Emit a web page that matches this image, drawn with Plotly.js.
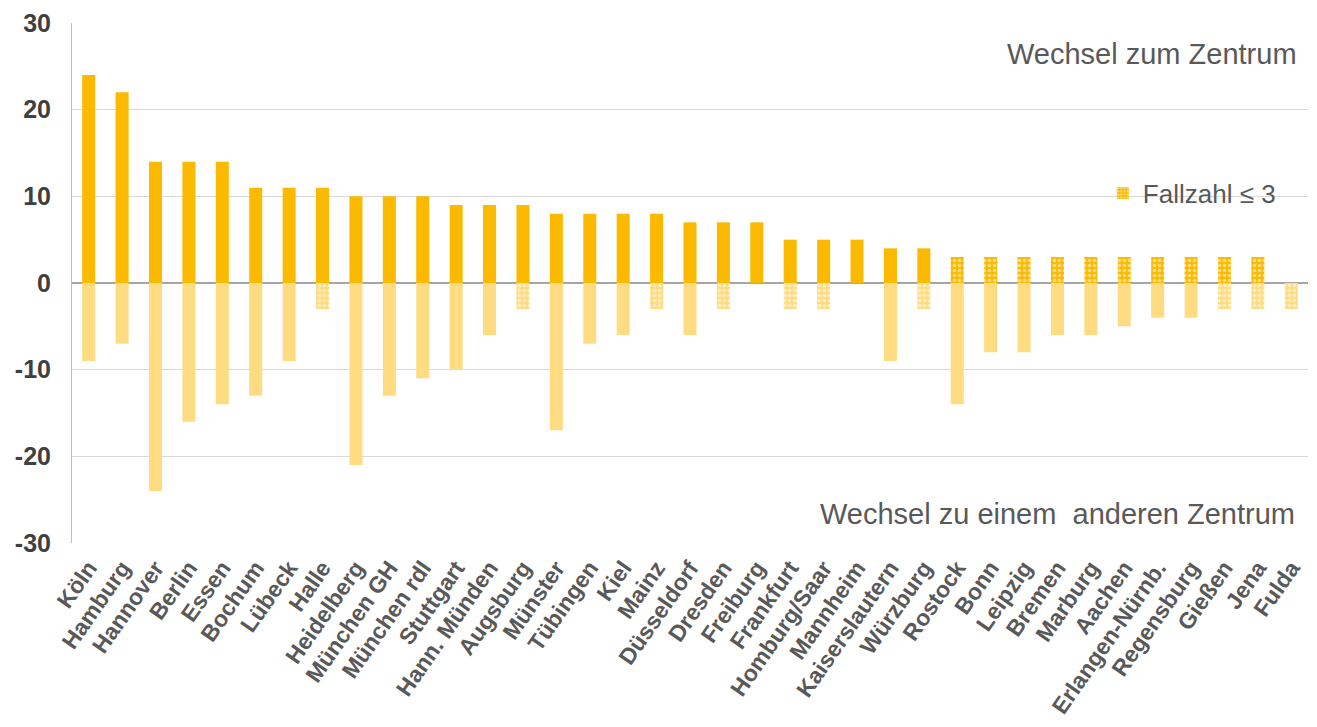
<!DOCTYPE html>
<html>
<head>
<meta charset="utf-8">
<script src="https://cdn.plot.ly/plotly-3.0.1.min.js"></script>
<style>html,body{margin:0;padding:0;background:#fff}#chart{width:1317px;height:727px}</style>
</head>
<body>
<div id="chart"></div>
<script>
const categories = ["Köln","Hamburg","Hannover","Berlin","Essen","Bochum","Lübeck","Halle","Heidelberg","München GH","München rdl","Stuttgart","Hann. Münden","Augsburg","Münster","Tübingen","Kiel","Mainz","Düsseldorf","Dresden","Freiburg","Frankfurt","Homburg/Saar","Mannheim","Kaiserslautern","Würzburg","Rostock","Bonn","Leipzig","Bremen","Marburg","Aachen","Erlangen-Nürnb.","Regensburg","Gießen","Jena","Fulda"];
const zumZentrum = [24,22,14,14,14,11,11,11,10,10,10,9,9,9,8,8,8,8,7,7,7,5,5,5,4,4,3,3,3,3,3,3,3,3,3,3,0];
const zuAnderem = [-9,-7,-24,-16,-14,-13,-9,-3,-21,-13,-11,-10,-6,-3,-17,-7,-6,-3,-6,-3,0,-3,-3,0,-9,-3,-14,-8,-8,-6,-6,-5,-4,-4,-3,-3,-3];
const kleinPos = [0,0,0,0,0,0,0,0,0,0,0,0,0,0,0,0,0,0,0,0,0,0,0,0,0,0,1,1,1,1,1,1,1,1,1,1,0];
const kleinNeg = [0,0,0,0,0,0,0,1,0,0,0,0,0,1,0,0,0,1,0,1,0,1,1,0,0,1,0,0,0,0,0,0,0,0,1,1,1];
const yTicks = [-30,-20,-10,0,10,20,30];

const darkC = '#FBBA00', lightC = '#FFDC82';
function pat(flags, col){
  return {shape: flags.map(f => f ? '.' : ''), fillmode:'overlay', bgcolor: col, fgcolor:'#ffffff', size:5, solidity:0.4};
}
const traces = [
  {type:'bar', x:categories, y:zumZentrum, marker:{color:darkC, line:{width:0}, pattern:pat(kleinPos, darkC)}, showlegend:false, hoverinfo:'x+y'},
  {type:'bar', x:categories, y:zuAnderem, marker:{color:lightC, line:{width:0}, pattern:pat(kleinNeg, lightC)}, showlegend:false, hoverinfo:'x+y'},
  {type:'bar', x:[categories[0]], y:[null], name:'Fallzahl ≤ 3', marker:{color:darkC, pattern:{shape:'.', fillmode:'overlay', bgcolor:darkC, fgcolor:'#ffffff', size:4, solidity:0.4}}, showlegend:true}
];
const layout = {
  width:1317, height:727,
  margin:{l:72, r:9, t:23, b:184},
  paper_bgcolor:'#ffffff', plot_bgcolor:'#ffffff',
  barmode:'relative', bargap:0.61,
  font:{family:'Liberation Sans, Arial, sans-serif', color:'#595959'},
  xaxis:{type:'category', tickangle:-55, tickfont:{size:23, color:'#595959', family:'Liberation Sans, Arial, sans-serif', weight:'bold'}, showgrid:false, ticks:'', showline:false, zeroline:false, automargin:false, ticklabelstandoff:6},
  yaxis:{range:[-30,30], tickvals:yTicks, ticktext:yTicks.map(String), tickfont:{size:25, color:'#404040', weight:'bold'}, showgrid:true, gridcolor:'#D9D9D9', gridwidth:1, zeroline:true, zerolinecolor:'#A6A6A6', zerolinewidth:2, showline:true, linecolor:'#BFBFBF', linewidth:1, ticks:'', ticklabelstandoff:15, automargin:false},
  legend:{x:0.834, y:0.673, xanchor:'left', yanchor:'middle', bgcolor:'rgba(0,0,0,0)', font:{size:26, color:'#595959'}},
  annotations:[
    {xref:'paper', yref:'paper', x:0.993, y:0.94, xanchor:'right', yanchor:'middle', text:'Wechsel zum Zentrum', showarrow:false, font:{size:29, color:'#595959'}},
    {xref:'paper', yref:'paper', x:0.9915, y:0.056, xanchor:'right', yanchor:'middle', text:'Wechsel zu einem&nbsp; anderen Zentrum', showarrow:false, font:{size:29, color:'#595959'}}
  ]
};
Plotly.newPlot('chart', traces, layout, {displayModeBar:false, staticPlot:true});
</script>
</body>
</html>
